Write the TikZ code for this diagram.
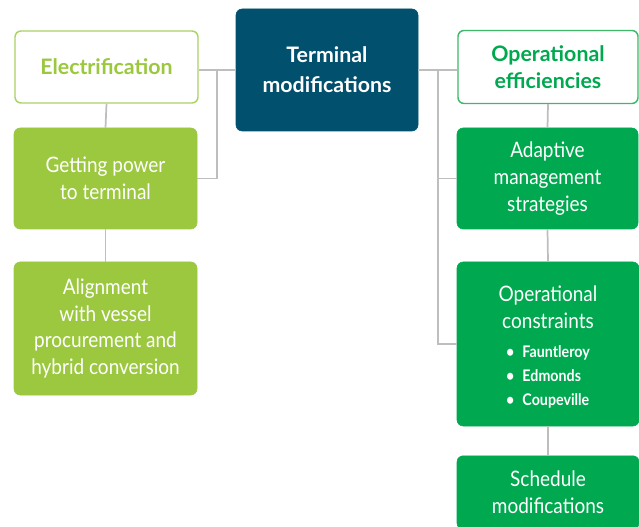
\documentclass[tikz,border=0pt]{standalone}
\usepackage{fontspec}
\setmainfont{Lato}
\newfontfamily\bodyfont{Lato}[FakeStretch=0.89]
\usetikzlibrary{positioning, calc}
\definecolor{cNavy}{RGB}{0,80,110}
\definecolor{cLime}{RGB}{155,200,63}
\definecolor{cLimeLine}{RGB}{170,210,100}
\definecolor{cGreen}{RGB}{0,169,79}
\definecolor{cGreenLine}{RGB}{60,185,105}
\definecolor{cLink}{RGB}{190,190,190}
\tikzset{
	box/.style      ={rectangle, rounded corners=4.5pt, align=center, text centered, inner sep=2pt, font=\bodyfont\fontsize{16}{20}\selectfont},
	head/.style     ={box, draw, line width=1.1pt, fill=white, font=\fontsize{16}{20.5}\selectfont\bfseries},
	navybox/.style  ={box, draw=cNavy, fill=cNavy, text=white, font=\fontsize{16}{22.5}\selectfont\bfseries},
	limebox/.style  ={box, draw=cLime, fill=cLime, text=white},
	greenbox/.style ={box, draw=cGreen, fill=cGreen, text=white},
	link/.style     ={draw=cLink, line width=1.3pt},
}
\begin{document}
\begin{tikzpicture}[x=0.75pt, y=-0.75pt]
	\useasboundingbox (0,0) rectangle (639,527);
	\clip (0,0) rectangle (639,527);
	% centre block
	\node[navybox, minimum width=136.5pt, minimum height=91.5pt] (term) at (327,70) {Terminal\\modifications};
	% left branch
	\node[head, draw=cLimeLine, text=cLime, minimum width=137.25pt, minimum height=54pt] (elec) at (106.5,67) {Electrification};
	\node[limebox, minimum width=137.25pt, minimum height=75.75pt] (power) at (105.5,178.5) {Getting power\\to terminal};
	\node[limebox, minimum width=137.25pt, minimum height=99.75pt] (align) at (105.5,328.5) {Alignment\\with vessel\\procurement and\\hybrid conversion};
	% right branch
	\node[head, draw=cGreenLine, text=cGreen, minimum width=135pt, minimum height=54.75pt] (opeff) at (548,67) {Operational\\efficiencies};
	\node[greenbox, minimum width=135.75pt, minimum height=75.75pt] (adapt) at (547.5,178.5) {Adaptive\\management\\strategies};
	\node[greenbox, minimum width=136.5pt, minimum height=123pt] (constr) at (548,344) {\rule{0pt}{20pt}Operational\\constraints\\[8.25pt]
		{\fontsize{12}{18}\selectfont\bfseries\begin{tabular}{@{}l@{}}
			\textbullet\hspace{0.5em}Fauntleroy\\
			\textbullet\hspace{0.5em}Edmonds\\
			\textbullet\hspace{0.5em}Coupeville
		\end{tabular}}};
	\node[greenbox, minimum width=136.5pt, minimum height=55pt] (sched) at (548,492.5) {Schedule\\modifications};
	% connectors
	\coordinate (lbus) at (217,70);
	\coordinate (rbus) at (438,70);
	\draw[link] (term.west) -- (elec.east |- term.west);
	\draw[link] (lbus) |- (power.east);
	\draw[link] (elec.south) -- (power.north);
	\draw[link] (power.south) -- (align.north);
	\draw[link] (term.east) -- (opeff.west |- term.east);
	\draw[link] (rbus) |- (adapt.west);
	\draw[link] (rbus) |- (constr.west);
	\draw[link] (opeff.south) -- (adapt.north);
	\draw[link] (adapt.south) -- (constr.north);
	\draw[link] (constr.south) -- (sched.north);
\end{tikzpicture}
\end{document}
